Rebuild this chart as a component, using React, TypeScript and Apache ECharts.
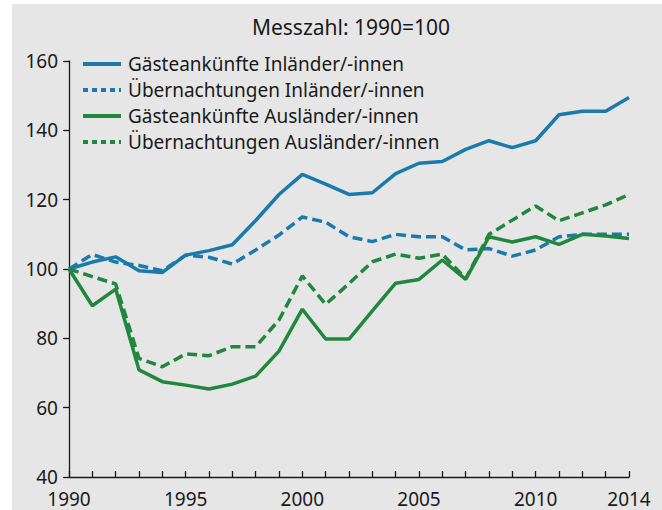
import React, { useEffect, useRef } from "react";
import * as echarts from "echarts";

const years = [
  "1990", "1991", "1992", "1993", "1994", "1995", "1996", "1997", "1998", "1999",
  "2000", "2001", "2002", "2003", "2004", "2005", "2006", "2007", "2008", "2009",
  "2010", "2011", "2012", "2013", "2014",
];
const shownYearLabels = ["1990", "1995", "2000", "2005", "2010", "2014"];

const ankuenfteInland = [
  100, 102, 103.5, 99.5, 99, 104, 105.3, 107, 114, 121.5,
  127.3, 124.5, 121.5, 122, 127.5, 130.5, 131, 134.5, 137, 135,
  137, 144.5, 145.5, 145.5, 149.5,
];
const uebernachtungenInland = [
  100, 104.2, 102, 101, 99.5, 104, 103.4, 101.4, 105.5, 109.8,
  115, 113.5, 109.3, 107.9, 110, 109.3, 109.3, 105.5, 105.9, 103.7,
  105.5, 109.3, 110, 110, 110,
];
const ankuenfteAusland = [
  100, 89.4, 94.2, 70.9, 67.5, 66.5, 65.4, 66.8, 69.1, 76.3,
  88.4, 79.8, 79.8, 87.9, 95.9, 97, 102.6, 97, 109.3, 107.8,
  109.3, 107.1, 110, 109.5, 108.8,
];
const uebernachtungenAusland = [
  100, 97.8, 95.7, 74.2, 71.8, 75.5, 75, 77.6, 77.6, 85.3,
  98, 89.8, 95.8, 102.1, 104.3, 103.1, 104.3, 97.2, 110, 114.1,
  118.2, 113.9, 116.2, 118.5, 121.5,
];

const seriesNames = [
  "Gästeankünfte Inländer/-innen",
  "Übernachtungen Inländer/-innen",
  "Gästeankünfte Ausländer/-innen",
  "Übernachtungen Ausländer/-innen",
];

const BLUE = "#1a7aab";
const GREEN = "#20873c";
const FONT = "'Noto Sans', 'Open Sans', sans-serif";

export default function App() {
  const ref = useRef<HTMLDivElement>(null);

  useEffect(() => {
    if (!ref.current) return;
    const chart = echarts.init(ref.current, undefined, { renderer: "svg" });
    const dataSets = [ankuenfteInland, uebernachtungenInland, ankuenfteAusland, uebernachtungenAusland];
    const colors = [BLUE, BLUE, GREEN, GREEN];
    const dashed = [false, true, false, true];
    chart.setOption({
      animation: false,
      textStyle: { fontFamily: FONT },
      graphic: [
        {
          type: "rect",
          z: -100,
          silent: true,
          shape: { x: 12, y: 4, width: 650, height: 506 },
          style: { fill: "#e6e6e6" },
        },
        {
          type: "text",
          x: 351,
          y: 27,
          style: {
            text: "Messzahl: 1990=100",
            fontFamily: FONT,
            fontSize: 21,
            fill: "#1a1a1a",
            textAlign: "center",
            textVerticalAlign: "middle",
          },
        },
      ],
      grid: { left: 69, right: 33, top: 61, bottom: 33, containLabel: false },
      legend: {
        orient: "vertical",
        left: 81,
        top: 53,
        padding: 0,
        itemWidth: 38,
        itemHeight: 14,
        itemGap: 4,
        itemStyle: { color: "transparent", borderColor: "transparent", borderWidth: 0, opacity: 0 },
        textStyle: {
          fontFamily: FONT,
          fontSize: 19,
          color: "#1a1a1a",
          lineHeight: 22,
          padding: [0, 0, 0, 2],
        },
        data: seriesNames.map((n, i) => ({
          name: n,
          itemStyle: { color: "transparent", borderColor: "transparent", borderWidth: 0, opacity: 0 },
          lineStyle: { width: 4, type: dashed[i] ? [5, 4] : "solid", color: colors[i] },
        })),
      },
      xAxis: {
        type: "category",
        data: years,
        boundaryGap: false,
        axisLine: { lineStyle: { color: "#1a1a1a", width: 1.3 } },
        axisTick: { show: true, inside: true, length: 6, interval: 0, lineStyle: { color: "#1a1a1a", width: 1.3 } },
        axisLabel: {
          interval: (_i: number, v: string) => shownYearLabels.includes(v),
          fontFamily: FONT,
          fontSize: 19,
          color: "#1a1a1a",
          margin: 12,
        },
        splitLine: { show: false },
      },
      yAxis: {
        type: "value",
        min: 40,
        max: 160,
        interval: 20,
        axisLine: { show: true, lineStyle: { color: "#1a1a1a", width: 1.3 } },
        axisTick: { show: true, length: 6, lineStyle: { color: "#1a1a1a", width: 1.3 } },
        axisLabel: { fontFamily: FONT, fontSize: 19, color: "#1a1a1a", margin: 11 },
        splitLine: { show: false },
      },
      series: dataSets.map((d, i) => ({
        name: seriesNames[i],
        type: "line",
        data: d,
        symbol: "none",
        lineStyle: { color: colors[i], width: 3.5, type: dashed[i] ? [10, 5] : "solid" },
        itemStyle: { color: colors[i] },
      })),
    });
    return () => chart.dispose();
  }, []);

  return (
    <div
      style={{ position: "fixed", left: 0, top: 0, width: 662, height: 510, background: "#ffffff" }}
    >
      <div ref={ref} style={{ width: 662, height: 510 }} />
    </div>
  );
}
